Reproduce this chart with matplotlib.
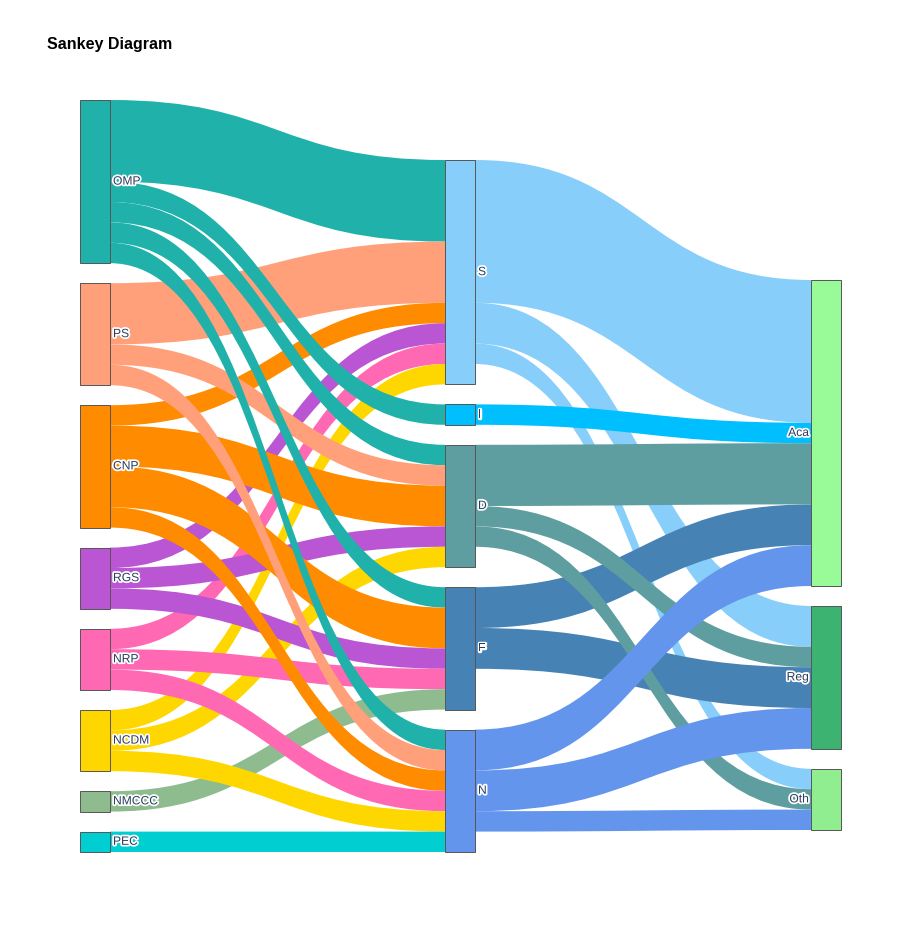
import matplotlib
matplotlib.use("Agg")
import matplotlib.pyplot as plt
from matplotlib.path import Path
from matplotlib.patches import PathPatch, Rectangle
import matplotlib.patheffects as pe

plt.rcParams['font.family'] = ['Liberation Sans', 'DejaVu Sans']

# nodes
labels = ["OMP", "PS", "CNP", "RGS", "NRP", "NCDM", "NMCCC", "PEC",
          "S", "I", "D", "F", "N",
          "Aca", "Reg", "Oth"]
node_colors = ["#20B2AA", "#FFA07A", "#FF8C00", "#BA55D3", "#FF69B4", "#FFD700", "#8FBC8F", "#00CED1",
               "#87CEFA", "#00BFFF", "#5F9EA0", "#4682B4", "#6495ED",
               "#98FB98", "#3CB371", "#90EE90"]
node_column = [0, 0, 0, 0, 0, 0, 0, 0,
               1, 1, 1, 1, 1,
               2, 2, 2]

# links (drawn in this order)
link_src = ["OMP", "PS", "CNP", "RGS", "NRP", "NCDM",
            "OMP",
            "OMP", "PS", "CNP", "RGS", "NCDM",
            "OMP", "CNP", "RGS", "NRP", "NMCCC",
            "OMP", "PS", "CNP", "NRP", "NCDM", "PEC",
            "S", "S", "S",
            "I",
            "F", "F",
            "D", "D", "D",
            "N", "N", "N"]
link_tgt = ["S", "S", "S", "S", "S", "S",
            "I",
            "D", "D", "D", "D", "D",
            "F", "F", "F", "F", "F",
            "N", "N", "N", "N", "N", "N",
            "Aca", "Reg", "Oth",
            "Aca",
            "Aca", "Reg",
            "Aca", "Reg", "Oth",
            "Aca", "Reg", "Oth"]
link_val = [4, 3, 1, 1, 1, 1,
            1,
            1, 1, 2, 1, 1,
            1, 2, 1, 1, 1,
            1, 1, 1, 1, 1, 1,
            7, 2, 1,
            1,
            2, 2,
            3, 1, 1,
            2, 2, 1]

# layout (pixels)
W, H = 921, 932
col_x = [80, 445, 811]
col_top = [100, 160, 280]
node_w = 30
pad = 20
scale = 20.4

fig = plt.figure(figsize=(W / 100, H / 100), dpi=100)
ax = fig.add_axes([0, 0, 1, 1])
ax.set_xlim(0, W)
ax.set_ylim(H, 0)
ax.axis("off")

idx = {l: i for i, l in enumerate(labels)}
n = len(labels)
v_in = [0] * n
v_out = [0] * n
for s, t, v in zip(link_src, link_tgt, link_val):
    v_out[idx[s]] += v
    v_in[idx[t]] += v

node_y = [0] * n
node_h = [0] * n
cursor = list(col_top)
for i in range(n):
    c = node_column[i]
    node_y[i] = cursor[c]
    node_h[i] = max(v_in[i], v_out[i]) * scale
    cursor[c] += node_h[i] + pad

# stacking of links at each node
src_off = {}
tgt_off = {}
for i in range(n):
    outs = sorted([k for k in range(len(link_src)) if idx[link_src[k]] == i],
                  key=lambda k: node_y[idx[link_tgt[k]]])
    y = node_y[i]
    for k in outs:
        src_off[k] = y
        y += link_val[k] * scale
    ins = sorted([k for k in range(len(link_tgt)) if idx[link_tgt[k]] == i],
                 key=lambda k: node_y[idx[link_src[k]]])
    y = node_y[i]
    for k in ins:
        tgt_off[k] = y
        y += link_val[k] * scale

for k in range(len(link_src)):
    s, t = idx[link_src[k]], idx[link_tgt[k]]
    x0 = col_x[node_column[s]] + node_w
    x1 = col_x[node_column[t]]
    xm = (x0 + x1) / 2
    w = link_val[k] * scale
    ys0, yt0 = src_off[k], tgt_off[k]
    ys1, yt1 = ys0 + w, yt0 + w
    verts = [(x0, ys0), (xm, ys0), (xm, yt0), (x1, yt0),
             (x1, yt1),
             (xm, yt1), (xm, ys1), (x0, ys1),
             (x0, ys0)]
    codes = [Path.MOVETO, Path.CURVE4, Path.CURVE4, Path.CURVE4,
             Path.LINETO,
             Path.CURVE4, Path.CURVE4, Path.CURVE4,
             Path.CLOSEPOLY]
    ax.add_patch(PathPatch(Path(verts, codes), facecolor=node_colors[s],
                           edgecolor="none", lw=0, zorder=1))

halo = [pe.withStroke(linewidth=2.5, foreground="white")]
for i in range(n):
    c = node_column[i]
    x = col_x[c]
    ax.add_patch(Rectangle((x, node_y[i]), node_w, node_h[i], facecolor=node_colors[i],
                           edgecolor="#555555", lw=0.7, zorder=2))
    yc = node_y[i] + node_h[i] / 2
    if c < 2:
        ax.text(x + node_w + 3, yc, labels[i], ha="left", va="center", fontsize=8.7,
                color="#2a3f5f", path_effects=halo, zorder=3)
    else:
        ax.text(x - 2, yc, labels[i], ha="right", va="center", fontsize=8.7,
                color="#2a3f5f", path_effects=halo, zorder=3)

fig.text(47 / W, 1 - 44 / H, "Sankey Diagram", ha="left", va="center",
         fontsize=11.5, fontweight="bold", color="black")

fig.savefig("out.png", dpi=100)
